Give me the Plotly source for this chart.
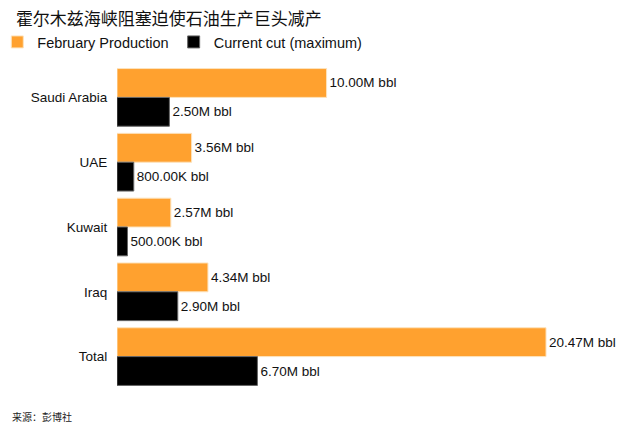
import plotly.graph_objects as go

countries = ["Saudi Arabia", "UAE", "Kuwait", "Iraq", "Total"]
feb_production = [10.00, 3.56, 2.57, 4.34, 20.47]   # million bbl
current_cut = [2.50, 0.80, 0.50, 2.90, 6.70]         # million bbl

title_text = "霍尔木兹海峡阻塞迫使石油生产巨头减产"
source_text = "来源：彭博社"

ORANGE = "#ffa12f"
BLACK = "#000000"
FONT = "Liberation Sans, Arial, Noto Sans CJK SC, sans-serif"


def fmt(v):
    if v >= 1:
        return f"{v:.2f}M bbl"
    return f"{v * 1000:.2f}K bbl"


fig = go.Figure()
fig.add_trace(go.Bar(
    y=countries, x=feb_production, orientation="h",
    name="February Production",
    marker=dict(color=ORANGE, line=dict(color="#fde3bd", width=1)),
    text=[fmt(v) for v in feb_production], textposition="outside",
    textfont=dict(size=13.5, color="#111"), cliponaxis=False,
))
fig.add_trace(go.Bar(
    y=countries, x=current_cut, orientation="h",
    name="Current cut (maximum)",
    marker=dict(color=BLACK, line=dict(color="#666", width=1)),
    text=[fmt(v) for v in current_cut], textposition="outside",
    textfont=dict(size=13.5, color="#111"), cliponaxis=False,
))

fig.update_layout(
    width=635, height=437,
    margin=dict(l=117, r=15, t=65, b=48, autoexpand=False),
    paper_bgcolor="white", plot_bgcolor="white",
    font=dict(family=FONT, color="#111"),
    barmode="group", bargap=0.11, bargroupgap=0,
    title=dict(text=title_text, x=0.025, xanchor="left", y=0.956, yanchor="middle",
               font=dict(size=17, color="#111",
                         family="Noto Sans CJK SC, sans-serif")),
    legend=dict(orientation="h", x=-0.238, xanchor="left", y=1.071, yanchor="middle",
                font=dict(size=14.5, color="#111"), itemwidth=30,
                traceorder="normal"),
    showlegend=True,
)
fig.update_xaxes(range=[0, 24], visible=False, showgrid=False, zeroline=False)
fig.update_yaxes(autorange="reversed", showgrid=False, zeroline=False,
                 showline=False, ticks="outside", ticklen=6,
                 tickcolor="rgba(0,0,0,0)", tickfont=dict(size=13.5, color="#111"))

fig.add_annotation(text=source_text, xref="paper", yref="paper",
                   x=-0.213, xanchor="left", y=-0.085, yanchor="middle",
                   showarrow=False,
                   font=dict(size=10, color="#222",
                             family="Noto Sans CJK SC, sans-serif"))

# drop the browser's default body margin so the figure sits at (0, 0)
fig.write_html("out.html", config={"displayModeBar": False},
               post_script="document.body.style.margin='0';")
